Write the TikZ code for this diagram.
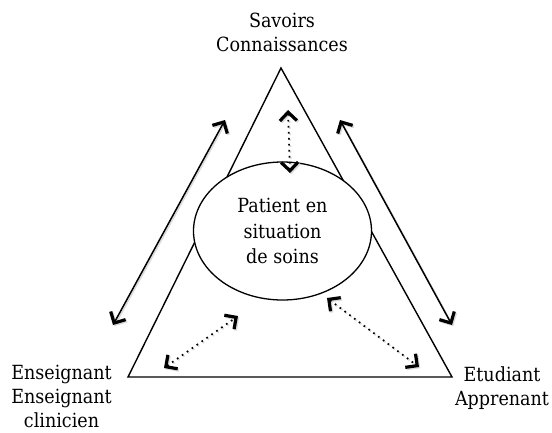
\documentclass[tikz,border=0pt]{standalone}
\usepackage{fontspec}
\setmainfont{DejaVu Serif Condensed}
\usetikzlibrary{arrows.meta,shapes.geometric}
\begin{document}
\begin{tikzpicture}[x=1pt,y=-1pt,
  lbl/.style={font=\fontsize{19.5}{24}\selectfont, align=center, inner sep=0pt},
  inlbl/.style={font=\fontsize{19.5}{25.5}\selectfont, align=center},
  tri/.style={line width=1.4pt, line join=miter},
  barb/.tip={Straight Barb[length=8.5pt,width=17pt,line width=3.2pt]},
  solidarrow/.style={line width=1.5pt, barb-barb},
  dotarrow/.style={line width=1.7pt, dash pattern=on 1.7pt off 4.3pt, barb-barb},
  shade/.style={black!14, transform canvas={shift={(1.3pt,-1.3pt)}}},
  patient/.style={ellipse, draw, fill=white, line width=1.3pt, minimum width=178pt, minimum height=138pt, inner sep=0pt}
]
\useasboundingbox (0,0) rectangle (552,432);

% triangle
\coordinate (A) at (281,68);
\coordinate (B) at (128,377);
\coordinate (C) at (452,377);
\draw[tri] (A) -- (B) -- (C) -- cycle;

% central ellipse
\node[patient, inlbl] (P) at (282.5,231) {Patient en\\situation\\de soins};

% labels
\node[lbl] (S) at (282,32.8) {Savoirs\\Connaissances};
\node[lbl] (E) at (61.5,396.5) {Enseignant\\Enseignant\\clinicien};
\node[lbl] (T) at (502,387.9) {Etudiant\\Apprenant};

% solid double arrows
\coordinate (l1) at (225,120);
\coordinate (l2) at (113,325);
\coordinate (r1) at (340,120);
\coordinate (r2) at (452,325);
\draw[solidarrow, shade] (l1) -- (l2);
\draw[solidarrow, shade] (r1) -- (r2);
\draw[solidarrow] (l1) -- (l2);
\draw[solidarrow] (r1) -- (r2);

% dotted double arrows
\coordinate (v1) at (288,110);
\coordinate (v2) at (290,173);
\coordinate (bl1) at (164,368);
\coordinate (bl2) at (238,316);
\coordinate (br1) at (327,298);
\coordinate (br2) at (419,367);
\draw[dotarrow, shade] (v1) -- (v2);
\draw[dotarrow, shade] (bl1) -- (bl2);
\draw[dotarrow, shade] (br1) -- (br2);
\draw[dotarrow] (v1) -- (v2);
\draw[dotarrow] (bl1) -- (bl2);
\draw[dotarrow] (br1) -- (br2);
\end{tikzpicture}
\end{document}
